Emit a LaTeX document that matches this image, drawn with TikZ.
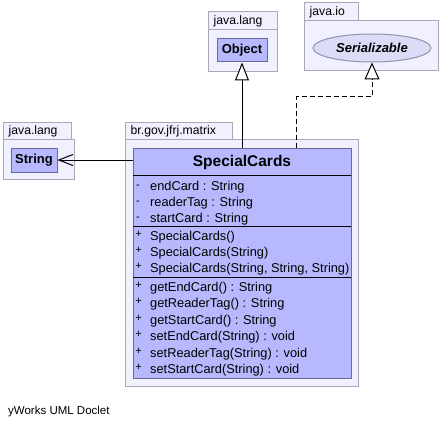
\documentclass[tikz,border=0pt]{standalone}
\usepackage{fontspec}
\setmainfont{Liberation Sans}
\usetikzlibrary{arrows.meta,shapes.geometric}
\definecolor{pkgfill}{HTML}{F0F0FF}
\definecolor{pkgdraw}{HTML}{A8A8B8}
\definecolor{clsfill}{HTML}{B8B8FF}
\definecolor{clsdraw}{HTML}{6A6A9A}
\definecolor{ellfill}{HTML}{DCDCF8}
\definecolor{elldraw}{HTML}{9090B0}
\begin{document}
\begin{tikzpicture}[x=1pt,y=-1pt,
  pkg/.style={draw=pkgdraw, fill=pkgfill, line width=1pt},
  pkglabel/.style={anchor=base west, inner sep=0pt, font=\fontsize{12.2}{14}\selectfont},
  clsbox/.style={draw=clsdraw, fill=clsfill, line width=1pt, inner sep=0pt},
  sep/.style={draw=black, line width=1pt},
  member/.style={anchor=base west, inner sep=0pt, font=\fontsize{12.8}{14}\selectfont},
  vis/.style={anchor=base, inner sep=0pt, font=\fontsize{11}{13}\selectfont},
  conn/.style={draw=black, line width=1pt},
]
\useasboundingbox (0,0) rectangle (441,425);
\fill[white] (0,0) rectangle (441,425);

% package java.lang (Object)
\draw[pkg] (208,12) rectangle (277,30);
\draw[pkg] (208,30) rectangle (277,72);
\node[pkglabel] (p1) at (213.5,25) {java.lang};
% package java.io
\draw[pkg] (304,3) rectangle (358,21);
\draw[pkg] (304,21) rectangle (438,71);
\node[pkglabel] (p2) at (309.5,16) {java.io};
% package java.lang (String)
\draw[pkg] (3,122) rectangle (71,139);
\draw[pkg] (3,139) rectangle (74,179);
\node[pkglabel] (p3) at (8.5,134) {java.lang};
% package br.gov.jfrj.matrix
\draw[pkg] (125,122) rectangle (232,139);
\draw[pkg] (125,139) rectangle (358,386);
\node[pkglabel] (p4) at (130.5,134) {br.gov.jfrj.matrix};

% classes
\node[clsbox, minimum width=50pt, minimum height=23pt, font=\fontsize{13}{15}\selectfont\bfseries] (obj) at (242,50.5) {Object};
\node[clsbox, minimum width=46pt, minimum height=24pt, font=\fontsize{13}{15}\selectfont\bfseries] (str) at (34,160) {String};
\node[ellipse, draw=elldraw, fill=ellfill, line width=1pt, inner sep=0pt, minimum width=118pt, minimum height=28pt, font=\fontsize{13}{15}\selectfont\bfseries\itshape] (ser) at (372,48) {Serializable};

\node[clsbox, minimum width=218pt, minimum height=230pt, anchor=north west] (cls) at (133,148) {};
\node[anchor=base, inner sep=0pt, font=\fontsize{15.5}{18}\selectfont\bfseries] (title) at (242,166) {SpecialCards};
\draw[sep] (133,175) -- (351,175);
\draw[sep] (133,226) -- (351,226);
\draw[sep] (133,277) -- (351,277);

\node[vis] (a1s) at (138,188) {-};
\node[vis] (a2s) at (138,204) {-};
\node[vis] (a3s) at (138,220) {-};
\node[member] (a1) at (150,190) {endCard : String};
\node[member] (a2) at (150,206) {readerTag : String};
\node[member] (a3) at (150,222) {startCard : String};

\node[vis] (c1s) at (138.5,237) {+};
\node[vis] (c2s) at (138.5,253.3) {+};
\node[vis] (c3s) at (138.5,269.6) {+};
\node[member] (c1) at (150,240) {SpecialCards()};
\node[member] (c2) at (150,256.3) {SpecialCards(String)};
\node[member] (c3) at (150,272.6) {SpecialCards(String, String, String)};

\node[vis] (m1s) at (138.5,288) {+};
\node[vis] (m2s) at (138.5,304.5) {+};
\node[vis] (m3s) at (138.5,321) {+};
\node[vis] (m4s) at (138.5,337.5) {+};
\node[vis] (m5s) at (138.5,354) {+};
\node[vis] (m6s) at (138.5,370.5) {+};
\node[member] (m1) at (150,291) {getEndCard() : String};
\node[member] (m2) at (150,307.5) {getReaderTag() : String};
\node[member] (m3) at (150,324) {getStartCard() : String};
\node[member] (m4) at (150,340.5) {setEndCard(String) : void};
\node[member] (m5) at (150,357) {setReaderTag(String) : void};
\node[member] (m6) at (150,373.5) {setStartCard(String) : void};

% connectors
\draw[conn, -{Triangle[open, fill=white, length=18pt, width=14pt]}] (cls.north -| obj.south) -- (obj.south);
\draw[conn, dash pattern=on 5pt off 3pt, -{Triangle[open, fill=white, length=17pt, width=15pt]}] ([xshift=54pt]cls.north) -- ++(0,-51) -| (ser.south);
\draw[conn, -{Straight Barb[length=14pt, width=11pt]}] (cls.west |- str.east) -- (str.east);

\node[anchor=base west, inner sep=0pt, font=\fontsize{11.5}{13}\selectfont] (foot) at (8,414) {yWorks UML Doclet};
\end{tikzpicture}
\end{document}
